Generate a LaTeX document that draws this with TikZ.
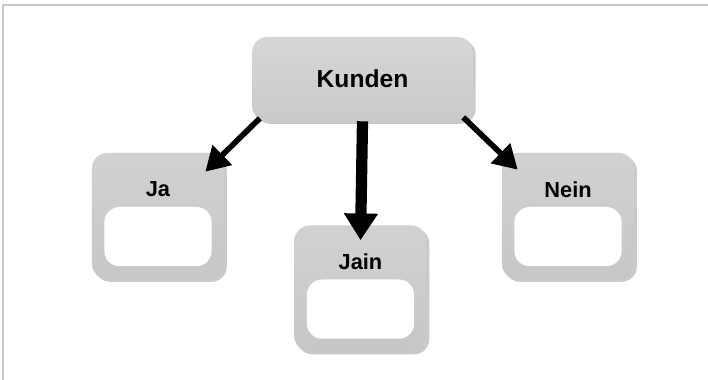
\documentclass[tikz,border=0pt]{standalone}
\usepackage{fontspec}
\setmainfont{Liberation Sans}
\usetikzlibrary{arrows.meta, shadows, calc, positioning}
\tikzstyle{topbox} = [rectangle, rounded corners=0.38cm, minimum width=5.52cm,
	minimum height=2.1cm, top color=black!16, middle color=black!5, bottom color=black!21,
	drop shadow={shadow xshift=0.07cm, shadow yshift=-0.07cm, opacity=0.35, fill=black!60},
	font=\bfseries\fontsize{17.5}{20}\selectfont]
\tikzstyle{answerbox} = [rectangle, rounded corners=0.38cm, minimum width=3.3cm,
	minimum height=3.15cm, top color=black!18, middle color=black!7, bottom color=black!22,
	drop shadow={shadow xshift=0.07cm, shadow yshift=-0.07cm, opacity=0.35, fill=black!60}]
\tikzstyle{innerbox} = [rectangle, rounded corners=0.38cm, minimum width=2.68cm,
	minimum height=1.48cm, fill=white]
\tikzstyle{boxlabel} = [font=\bfseries\fontsize{15.5}{18}\selectfont]
\tikzstyle{arrow} = [-{Triangle[length=17pt, width=19pt]}, line width=4pt]
\tikzstyle{arrow-thick} = [-{Triangle[length=19pt, width=23pt]}, line width=8pt]

\begin{document}
\begin{tikzpicture}[x=0.025cm, y=-0.025cm]
	% frame
	\useasboundingbox (0,0) rectangle (708,380);
	\draw [black!22, line width=1.5pt] (3,380) -- (3,5) -- (708,5);

	% set up nodes
	\node (kunden) [topbox] at (362.5,79) {Kunden};

	\node (ja) [answerbox] at (158,216) {};
	\node (jain) [answerbox] at (360.5,288.5) {};
	\node (nein) [answerbox] at (568,216) {};

	\node (ja-label) [boxlabel] at ([yshift=-0.92cm]ja.north) {Ja};
	\node (jain-label) [boxlabel] at ([yshift=-0.92cm]jain.north) {Jain};
	\node (nein-label) [boxlabel] at ([yshift=-0.92cm]nein.north) {Nein};

	\node (ja-in) [innerbox, above=0.32cm of ja.south] {};
	\node (jain-in) [innerbox, above=0.32cm of jain.south] {};
	\node (nein-in) [innerbox, above=0.32cm of nein.south] {};

	% set up arrows
	\draw [arrow] ([xshift=0.2cm, yshift=0.075cm]kunden.south west) -- ([xshift=-0.475cm, yshift=-0.475cm]ja.north east);
	\draw [arrow-thick] (kunden.south) -- ([yshift=-0.375cm]jain.north);
	\draw [arrow] ([xshift=-0.25cm, yshift=0.1cm]kunden.south east) -- ([xshift=0.4cm, yshift=-0.425cm]nein.north west);

\end{tikzpicture}
\end{document}
